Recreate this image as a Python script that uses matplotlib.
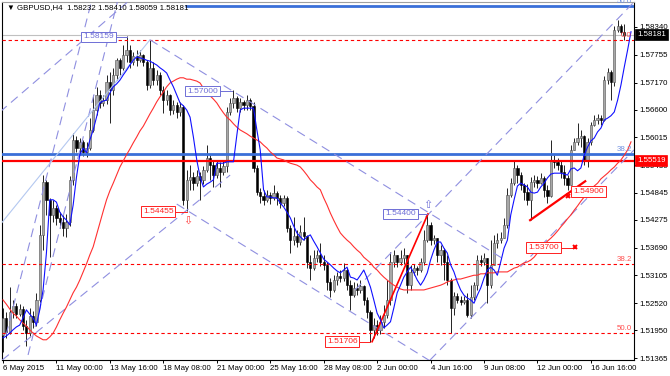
import matplotlib
matplotlib.use("Agg")
import matplotlib.pyplot as plt
from matplotlib.patches import Rectangle

plt.rcParams['font.family'] = ['Liberation Sans', 'DejaVu Sans']
FS = 5.7

# ---------------- data (GBPUSD H4) ----------------
open0 = 1.5185
closes = [
    1.5221, 1.5192, 1.5234, 1.5246, 1.5230, 1.5240, 1.5204, 1.5190, 1.5225, 1.5213,
    1.5259, 1.5395, 1.5508, 1.5470, 1.5437, 1.5453, 1.5431, 1.5423, 1.5410, 1.5423,
    1.5512, 1.5596, 1.5579, 1.5592, 1.5571, 1.5579, 1.5617, 1.5659, 1.5690, 1.5674,
    1.5680, 1.5718, 1.5701, 1.5732, 1.5764, 1.5747, 1.5775, 1.5786, 1.5760, 1.5773,
    1.5764, 1.5775, 1.5760, 1.5711, 1.5747, 1.5722, 1.5732, 1.5701, 1.5680, 1.5690,
    1.5659, 1.5669, 1.5655, 1.5665, 1.5470, 1.5512, 1.5517, 1.5506, 1.5520, 1.5512,
    1.5533, 1.5558, 1.5543, 1.5522, 1.5537, 1.5529, 1.5541, 1.5655, 1.5674, 1.5684,
    1.5663, 1.5676, 1.5669, 1.5680, 1.5667, 1.5537, 1.5487, 1.5478, 1.5470, 1.5480,
    1.5474, 1.5485, 1.5474, 1.5463, 1.5474, 1.5410, 1.5385, 1.5393, 1.5381, 1.5402,
    1.5393, 1.5339, 1.5326, 1.5347, 1.5353, 1.5339, 1.5332, 1.5297, 1.5280, 1.5301,
    1.5309, 1.5305, 1.5322, 1.5290, 1.5269, 1.5284, 1.5280, 1.5288, 1.5259, 1.5234,
    1.5196, 1.5206, 1.5196, 1.5213, 1.5227, 1.5259, 1.5339, 1.5353, 1.5339, 1.5347,
    1.5353, 1.5290, 1.5318, 1.5326, 1.5322, 1.5339, 1.5385, 1.5416, 1.5385, 1.5389,
    1.5353, 1.5364, 1.5339, 1.5301, 1.5242, 1.5267, 1.5259, 1.5255, 1.5259, 1.5227,
    1.5265, 1.5290, 1.5343, 1.5339, 1.5347, 1.5290, 1.5332, 1.5379, 1.5385, 1.5389,
    1.5416, 1.5480, 1.5506, 1.5537, 1.5522, 1.5501, 1.5487, 1.5470, 1.5508, 1.5512,
    1.5506, 1.5516, 1.5491, 1.5478, 1.5554, 1.5550, 1.5543, 1.5529, 1.5516, 1.5501,
    1.5575, 1.5592, 1.5600, 1.5604, 1.5554, 1.5592, 1.5627, 1.5638, 1.5642, 1.5638,
    1.5722, 1.5739, 1.5718, 1.5828, 1.5836, 1.5823, 1.58181]
highs = [
    1.5242, 1.5234, 1.5286, 1.5259, 1.5253, 1.5251, 1.5246, 1.5217, 1.5242, 1.5236,
    1.5274, 1.5416, 1.5522, 1.5512, 1.5474, 1.5470, 1.5459, 1.5444, 1.5437, 1.5440,
    1.5520, 1.5611, 1.5604, 1.5600, 1.5596, 1.5592, 1.5642, 1.5690, 1.5707, 1.5701,
    1.5690, 1.5732, 1.5739, 1.5747, 1.5768, 1.5768, 1.5796, 1.5816, 1.5796, 1.5782,
    1.5786, 1.5786, 1.5777, 1.5764, 1.5807, 1.5760, 1.5743, 1.5739, 1.5709, 1.5701,
    1.5692, 1.5680, 1.5676, 1.5676, 1.5669, 1.5533, 1.5543, 1.5529, 1.5533, 1.5529,
    1.5541, 1.5586, 1.5564, 1.5554, 1.5554, 1.5550, 1.5554, 1.5665, 1.5684, 1.5701,
    1.5688, 1.5684, 1.5680, 1.5690, 1.5684, 1.5676, 1.5543, 1.5495, 1.5491, 1.5491,
    1.5487, 1.5501, 1.5489, 1.5480, 1.5480, 1.5478, 1.5416, 1.5433, 1.5406, 1.5416,
    1.5433, 1.5395, 1.5353, 1.5364, 1.5364, 1.5379, 1.5353, 1.5339, 1.5305, 1.5311,
    1.5318, 1.5322, 1.5337, 1.5326, 1.5301, 1.5297, 1.5295, 1.5301, 1.5290, 1.5265,
    1.5238, 1.5221, 1.5217, 1.5227, 1.5248, 1.5301, 1.5360, 1.5364, 1.5353, 1.5364,
    1.5368, 1.5353, 1.5332, 1.5335, 1.5330, 1.5347, 1.5406, 1.5440, 1.5423, 1.5395,
    1.5389, 1.5374, 1.5368, 1.5353, 1.5305, 1.5276, 1.5274, 1.5267, 1.5267, 1.5274,
    1.5290, 1.5297, 1.5353, 1.5353, 1.5358, 1.5347, 1.5385, 1.5395, 1.5400, 1.5402,
    1.5431, 1.5495, 1.5516, 1.5554, 1.5543, 1.5529, 1.5506, 1.5503, 1.5518, 1.5522,
    1.5520, 1.5527, 1.5520, 1.5501, 1.5596, 1.5564, 1.5558, 1.5554, 1.5543, 1.5522,
    1.5586, 1.5600, 1.5632, 1.5617, 1.5606, 1.5600, 1.5634, 1.5648, 1.5651, 1.5648,
    1.5730, 1.5747, 1.5743, 1.5836, 1.5849, 1.5840, 1.58410]
lows = [
    1.5149, 1.5179, 1.5188, 1.5221, 1.5221, 1.5225, 1.5196, 1.5162, 1.5183, 1.5200,
    1.5204, 1.5255, 1.5364, 1.5437, 1.5349, 1.5423, 1.5416, 1.5410, 1.5393, 1.5391,
    1.5414, 1.5501, 1.5571, 1.5564, 1.5562, 1.5560, 1.5575, 1.5613, 1.5648, 1.5663,
    1.5667, 1.5672, 1.5632, 1.5690, 1.5722, 1.5732, 1.5743, 1.5760, 1.5747, 1.5753,
    1.5751, 1.5760, 1.5751, 1.5701, 1.5705, 1.5711, 1.5711, 1.5690, 1.5653, 1.5669,
    1.5648, 1.5651, 1.5642, 1.5646, 1.5459, 1.5446, 1.5491, 1.5491, 1.5499, 1.5470,
    1.5503, 1.5529, 1.5512, 1.5497, 1.5516, 1.5497, 1.5522, 1.5529, 1.5648, 1.5663,
    1.5655, 1.5655, 1.5659, 1.5659, 1.5659, 1.5529, 1.5480, 1.5463, 1.5459, 1.5466,
    1.5461, 1.5470, 1.5459, 1.5453, 1.5457, 1.5402, 1.5358, 1.5374, 1.5370, 1.5374,
    1.5385, 1.5326, 1.5301, 1.5322, 1.5339, 1.5330, 1.5322, 1.5280, 1.5265, 1.5276,
    1.5290, 1.5297, 1.5299, 1.5280, 1.5238, 1.5265, 1.5269, 1.5274, 1.5248, 1.5221,
    1.5171, 1.5179, 1.5185, 1.5188, 1.5200, 1.5221, 1.5248, 1.5328, 1.5328, 1.5332,
    1.5335, 1.5274, 1.5280, 1.5311, 1.5311, 1.5318, 1.5332, 1.5381, 1.5374, 1.5376,
    1.5339, 1.5332, 1.5301, 1.5290, 1.5190, 1.5227, 1.5253, 1.5248, 1.5251, 1.5223,
    1.5221, 1.5259, 1.5280, 1.5330, 1.5332, 1.5253, 1.5284, 1.5332, 1.5368, 1.5379,
    1.5389, 1.5410, 1.5476, 1.5501, 1.5506, 1.5491, 1.5470, 1.5459, 1.5427, 1.5497,
    1.5495, 1.5503, 1.5476, 1.5463, 1.5476, 1.5537, 1.5533, 1.5516, 1.5501, 1.5491,
    1.5501, 1.5575, 1.5586, 1.5581, 1.5543, 1.5539, 1.5586, 1.5625, 1.5630, 1.5627,
    1.5636, 1.5714, 1.5680, 1.5709, 1.5824, 1.5819, 1.58059]

# shifted moving averages (values per bar position, extend past last bar)
ma_fast = [
    1.5179, 1.5183, 1.5189, 1.5196, 1.5202, 1.5206, 1.5221, 1.5238, 1.5229, 1.5221,
    1.5206, 1.5238, 1.5280, 1.5358, 1.5470, 1.5470, 1.5465, 1.5444, 1.5434, 1.5427,
    1.5417, 1.5459, 1.5518, 1.5565, 1.5579, 1.5569, 1.5596, 1.5617, 1.5644, 1.5674,
    1.5678, 1.5680, 1.5695, 1.5708, 1.5714, 1.5722, 1.5733, 1.5743, 1.5754, 1.5764,
    1.5771, 1.5769, 1.5767, 1.5764, 1.5762, 1.5758, 1.5754, 1.5748, 1.5743, 1.5737,
    1.5722, 1.5708, 1.5691, 1.5674, 1.5668, 1.5659, 1.5644, 1.5602, 1.5554, 1.5518,
    1.5497, 1.5503, 1.5507, 1.5512, 1.5547, 1.5547, 1.5547, 1.5550, 1.5550, 1.5550,
    1.5606, 1.5659, 1.5663, 1.5663, 1.5663, 1.5663, 1.5617, 1.5575, 1.5491, 1.5476,
    1.5476, 1.5474, 1.5474, 1.5463, 1.5455, 1.5444, 1.5432, 1.5415, 1.5400, 1.5392,
    1.5385, 1.5392, 1.5396, 1.5383, 1.5371, 1.5358, 1.5345, 1.5339, 1.5333, 1.5326,
    1.5320, 1.5316, 1.5322, 1.5328, 1.5307, 1.5305, 1.5301, 1.5311, 1.5322, 1.5305,
    1.5286, 1.5259, 1.5231, 1.5217, 1.5200, 1.5206, 1.5213, 1.5242, 1.5274, 1.5290,
    1.5307, 1.5318, 1.5328, 1.5316, 1.5301, 1.5290, 1.5301, 1.5316, 1.5343, 1.5364,
    1.5381, 1.5381, 1.5368, 1.5358, 1.5333, 1.5318, 1.5297, 1.5280, 1.5269, 1.5263,
    1.5259, 1.5252, 1.5269, 1.5284, 1.5305, 1.5322, 1.5328, 1.5322, 1.5311, 1.5339,
    1.5368, 1.5385, 1.5438, 1.5470, 1.5499, 1.5505, 1.5501, 1.5497, 1.5486, 1.5484,
    1.5486, 1.5497, 1.5505, 1.5516, 1.5524, 1.5526, 1.5526, 1.5526, 1.5524, 1.5522,
    1.5535, 1.5537, 1.5531, 1.5537, 1.5564, 1.5581, 1.5594, 1.5600, 1.5613, 1.5621,
    1.5638, 1.5642, 1.5647, 1.5655, 1.5680, 1.5712, 1.5750, 1.5786, 1.5824]
ma_slow = [
    1.5259, 1.5250, 1.5240, 1.5231, 1.5225, 1.5217, 1.5210, 1.5204, 1.5196, 1.5189,
    1.5183, 1.5179, 1.5175, 1.5175, 1.5181, 1.5189, 1.5202, 1.5217, 1.5231, 1.5244,
    1.5259, 1.5274, 1.5286, 1.5301, 1.5318, 1.5335, 1.5354, 1.5371, 1.5396, 1.5421,
    1.5446, 1.5470, 1.5489, 1.5505, 1.5522, 1.5539, 1.5552, 1.5565, 1.5577, 1.5590,
    1.5602, 1.5615, 1.5625, 1.5638, 1.5651, 1.5663, 1.5676, 1.5687, 1.5697, 1.5708,
    1.5716, 1.5720, 1.5724, 1.5727, 1.5727, 1.5724, 1.5724, 1.5722, 1.5720, 1.5716,
    1.5705, 1.5695, 1.5689, 1.5682, 1.5674, 1.5663, 1.5653, 1.5644, 1.5638, 1.5630,
    1.5623, 1.5617, 1.5613, 1.5609, 1.5604, 1.5600, 1.5596, 1.5592, 1.5585, 1.5579,
    1.5571, 1.5565, 1.5558, 1.5556, 1.5554, 1.5550, 1.5547, 1.5545, 1.5543, 1.5539,
    1.5531, 1.5522, 1.5512, 1.5505, 1.5497, 1.5491, 1.5474, 1.5459, 1.5442, 1.5427,
    1.5413, 1.5400, 1.5392, 1.5385, 1.5379, 1.5371, 1.5364, 1.5358, 1.5349, 1.5343,
    1.5337, 1.5328, 1.5322, 1.5314, 1.5307, 1.5301, 1.5295, 1.5290, 1.5286, 1.5282,
    1.5280, 1.5280, 1.5280, 1.5280, 1.5280, 1.5280, 1.5280, 1.5282, 1.5284, 1.5286,
    1.5288, 1.5290, 1.5293, 1.5297, 1.5299, 1.5301, 1.5303, 1.5303, 1.5305, 1.5307,
    1.5309, 1.5311, 1.5311, 1.5314, 1.5314, 1.5316, 1.5316, 1.5316, 1.5318, 1.5318,
    1.5318, 1.5318, 1.5322, 1.5326, 1.5328, 1.5333, 1.5337, 1.5339, 1.5343, 1.5349,
    1.5358, 1.5366, 1.5375, 1.5383, 1.5389, 1.5396, 1.5404, 1.5413, 1.5421, 1.5430,
    1.5438, 1.5448, 1.5457, 1.5467, 1.5476, 1.5486, 1.5493, 1.5499, 1.5505, 1.5514,
    1.5520, 1.5526, 1.5533, 1.5539, 1.5547, 1.5554, 1.5564, 1.5575, 1.5592]

x_tick_bars = [0, 16, 32, 48, 64, 80, 96, 112, 128, 144, 160, 176]
x_tick_labels = ["6 May 2015", "11 May 00:00", "13 May 16:00", "18 May 08:00",
                 "21 May 00:00", "25 May 16:00", "28 May 08:00", "2 Jun 00:00",
                 "4 Jun 16:00", "9 Jun 08:00", "12 Jun 00:00", "16 Jun 16:00"]
y_ticks = [1.58340, 1.57755, 1.57170, 1.56600, 1.56015, 1.55430, 1.54845,
           1.54275, 1.53690, 1.53105, 1.52520, 1.51950, 1.51365]

bid_price = 1.58181
header = "\u25bc GBPUSD,H4  1.58232 1.58410 1.58059 1.58181"

# horizontal levels
blue_levels = [(1.58783, 54.5), (1.55664, -1.0)]   # (price, start bar)
red_level = 1.55519
red_fib = [(1.58066, "0.0"), (1.53346, "38.2"), (1.51893, "50.0")]
blue_fib_labels = [(1.58783, "50.0"), (1.55664, "38.2")]

# trend lines (bar, price, bar, price)
dashed_lines = [
    (-0.9, 1.5655, 38.0, 1.5891),
    (0.9, 1.5185, 26.6, 1.5891),
    (7.5, 1.5143, 34.4, 1.5891),
    (-0.3, 1.5132, 68.0, 1.5522),
    (44.0, 1.5807, 150.3, 1.5343),
    (52.0, 1.5461, 150.0, 1.5034),
    (105.4, 1.5280, 189.5, 1.5891),
    (127.8, 1.5132, 188.9, 1.5575),
]
light_line = (-0.9, 1.5417, 44.0, 1.5807)
red_trends = [(110.5, 1.5171, 127.2, 1.5440, 1.2), (157.8, 1.5427, 174.3, 1.5509, 1.6)]

# price labels: (text, box-left bar, price, anchor bar, colour)
price_labels = [
    ("1.58159", 24.0, 1.5813, 37.0, "blue"),
    ("1.57000", 55.1, 1.5699, 68.5, "blue"),
    ("1.54455", 41.9, 1.5445, 55.0, "red"),
    ("1.54400", 114.4, 1.5440, 127.0, "blue"),
    ("1.51706", 97.0, 1.5171, 110.0, "red"),
    ("1.54900", 170.7, 1.5488, 170.7, "red"),
    ("1.53700", 157.2, 1.5369, 171.3, "red"),
]
cross_marks = [(169.2, 1.5478), (171.3, 1.5370)]

LAV = "#8f8fe0"
LBLUE = "#6e6ed6"
RED = "#ff2020"
FIBBLUE = "#3a6fd8"

fig = plt.figure(figsize=(6.7, 3.76), dpi=100)
ax = fig.add_axes([2 / 670, 16 / 376, 632 / 670, 358.5 / 376])
ax.set_xlim(-0.3, 188.9)
ax.set_ylim(1.51324, 1.58877)

# candles
opens = [open0] + closes[:-1]
for i, (o, h, l, c) in enumerate(zip(opens, highs, lows, closes)):
    ax.vlines(i, l, h, color="black", lw=0.6, zorder=3)
    bull = c >= o
    ax.add_patch(Rectangle((i - 0.33, min(o, c)), 0.66, max(abs(c - o), 0.00005),
                           facecolor="#a8a8a8" if bull else "black",
                           edgecolor="#505050" if bull else "black", lw=0.4, zorder=4))

# horizontal lines
ax.axhline(bid_price, color="#c0c0c0", lw=0.8, zorder=2)
for p, x0 in blue_levels:
    ax.plot([x0, 190], [p, p], color=FIBBLUE, lw=2.0, zorder=5, solid_capstyle="butt")
ax.axhline(red_level, color="#ff0000", lw=1.6, zorder=5)
for p, t in red_fib:
    ax.axhline(p, color="#ff0000", lw=0.8, ls=(0, (3, 2.5)), zorder=5)
    ax.text(188.3, p + 0.0002, t, color="#ff5050", fontsize=FS, ha="right", va="bottom", zorder=7)
for p, t in blue_fib_labels:
    ax.text(188.3, p + 0.0003, t, color="#7090e0", fontsize=FS, ha="right", va="bottom", zorder=7)

# trend lines
for x0, y0, x1, y1 in dashed_lines:
    ax.plot([x0, x1], [y0, y1], color=LAV, lw=0.8, ls=(0, (8, 5)), zorder=5)
ax.plot([light_line[0], light_line[2]], [light_line[1], light_line[3]], color="#b4c8f0", lw=0.8, zorder=5)
for x0, y0, x1, y1, w in red_trends:
    ax.plot([x0, x1], [y0, y1], color="#ff0000", lw=w, zorder=6)

# moving averages
ax.plot(range(len(ma_slow)), ma_slow, color="#ff3030", lw=0.8, zorder=6)
ax.plot(range(len(ma_fast)), ma_fast, color="#1010ff", lw=0.8, zorder=6)

# price labels
for t, xl, p, xa, col in price_labels:
    c = LBLUE if col == "blue" else RED
    ax.plot([xl + 5, xa], [p, p], color=c, lw=0.7, zorder=7)
    ax.text(xl, p, t, color=c, fontsize=FS + 0.3, ha="left", va="center", zorder=8,
            bbox=dict(boxstyle="square,pad=0.22", fc="white", ec=c, lw=0.7))
for x, p in cross_marks:
    ax.plot([x], [p], marker="x", color="#ff0000", ms=3.5, mew=1.4, zorder=8)
ax.text(55.4, 1.5425, "\u21e9", color="#ff4040", fontsize=8, ha="center", va="center",
        family="DejaVu Sans", zorder=8)
ax.text(127.2, 1.5460, "\u21e7", color="#7070d8", fontsize=8, ha="center", va="center",
        family="DejaVu Sans", zorder=8)

# axes styling
for s in ["left", "bottom", "right"]:
    ax.spines[s].set_color("black")
    ax.spines[s].set_linewidth(0.8)
ax.spines["top"].set_color("#a0a0a0")
ax.spines["top"].set_linewidth(0.8)
ax.yaxis.tick_right()
ax.set_yticks(y_ticks)
ax.set_yticklabels([f"{v:.5f}" for v in y_ticks], fontsize=FS)
ax.set_xticks(x_tick_bars)
ax.set_xticklabels(x_tick_labels, fontsize=FS, ha="left")
ax.tick_params(axis="y", length=2.2, width=0.7, pad=1.5)
ax.tick_params(axis="x", length=2.2, width=0.7, pad=1.5)

# right-edge price boxes
ytr = ax.get_yaxis_transform()
ax.text(1.0047, bid_price, "1.58181", transform=ytr, color="white", fontsize=FS, ha="left",
        va="center", clip_on=False, zorder=9,
        bbox=dict(boxstyle="square,pad=0.25", fc="black", ec="black", lw=0.5))
ax.text(1.0047, red_level, "1.55519", transform=ytr, color="white", fontsize=FS, ha="left",
        va="center", clip_on=False, zorder=9,
        bbox=dict(boxstyle="square,pad=0.25", fc="#ff0000", ec="#ff0000", lw=0.5))

fig.text(7 / 670, 1 - 8 / 376, header, fontsize=FS, color="black", ha="left", va="center")

fig.savefig("out.png", dpi=100)
